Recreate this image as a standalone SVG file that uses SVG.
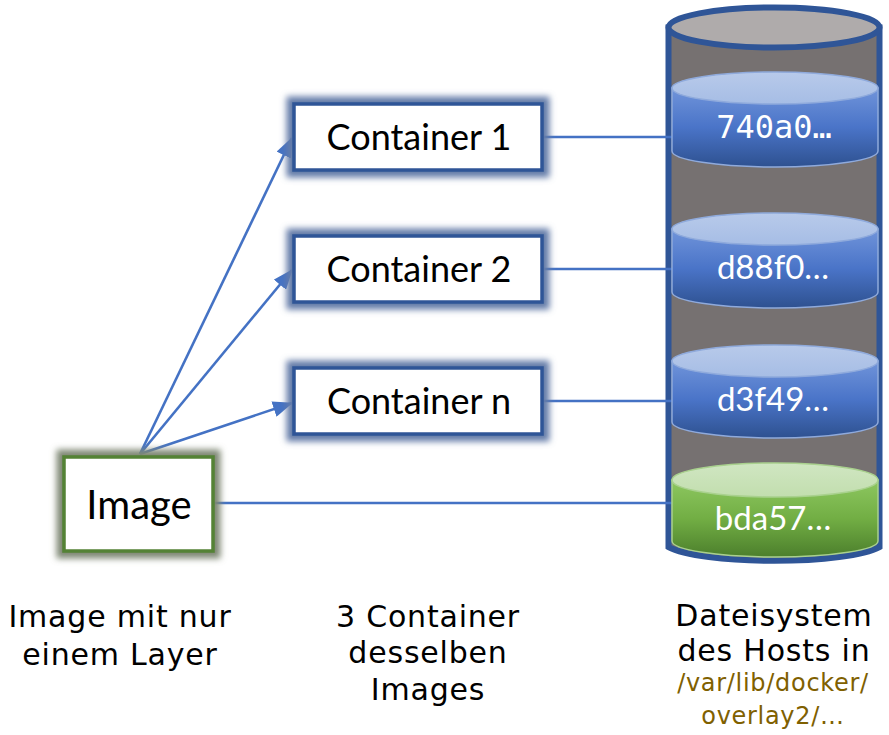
<svg xmlns="http://www.w3.org/2000/svg" width="889" height="735" viewBox="0 0 889 735">
<style>
.lbl{font-family:"DejaVu Sans","Verdana",sans-serif;font-size:30px;letter-spacing:0.8px;fill:#000;text-anchor:middle}
.path{font-family:"DejaVu Sans","Verdana",sans-serif;font-size:24px;letter-spacing:0.7px;fill:#7F6000;text-anchor:middle}
.box{font-family:Lato,"Open Sans",sans-serif;font-size:36px;fill:#000;text-anchor:middle}
.disk{font-family:Lato,"Open Sans",sans-serif;font-size:33px;fill:#fff;text-anchor:middle}
.mono{font-family:"DejaVu Sans Mono","Liberation Mono",monospace;font-size:32px;fill:#fff;text-anchor:middle}
.conn{stroke:#4472C4;stroke-width:2.6;fill:none}
.cbox{fill:#fff;stroke:#2F5597;stroke-width:3.5}
.cglow{fill:none;stroke:#647BA8;stroke-width:15;filter:url(#blur)}
.ibox{fill:#fff;stroke:#548235;stroke-width:3.5}
.iglow{fill:none;stroke:#7F8875;stroke-width:15;filter:url(#blur)}
.btop{fill:url(#btopg);stroke:#8FAADC;stroke-width:1.5}
.bbody{fill:url(#bbodyg);stroke:#8FAADC;stroke-width:1.5}
.gtop{fill:url(#gtopg);stroke:#A9D18E;stroke-width:1.5}
.gbody{fill:url(#gbodyg);stroke:#A9D18E;stroke-width:1.5}
</style>
<defs>
<filter id="blur" x="-20%" y="-40%" width="140%" height="180%"><feGaussianBlur stdDeviation="3.2"/></filter>
<marker id="arr" viewBox="0 0 20 16" refX="19" refY="8" markerWidth="20" markerHeight="16" markerUnits="userSpaceOnUse" orient="auto"><path d="M0,0 L20,8 L0,16 Z" fill="#4472C4"/></marker>
<linearGradient id="btopg" x1="0" y1="0" x2="0" y2="1"><stop offset="0" stop-color="#B8CAEA"/><stop offset="1" stop-color="#A6BDE5"/></linearGradient>
<linearGradient id="bbodyg" x1="0" y1="0" x2="0" y2="1"><stop offset="0" stop-color="#7094DA"/><stop offset="0.5" stop-color="#4A74C8"/><stop offset="1" stop-color="#2E5190"/></linearGradient>
<linearGradient id="gtopg" x1="0" y1="0" x2="0" y2="1"><stop offset="0" stop-color="#D0E6C2"/><stop offset="1" stop-color="#C2DEAE"/></linearGradient>
<linearGradient id="gbodyg" x1="0" y1="0" x2="0" y2="1"><stop offset="0" stop-color="#8DC760"/><stop offset="0.5" stop-color="#72AE44"/><stop offset="1" stop-color="#4C7F2C"/></linearGradient>
</defs>

<g id="filesystem">
<path d="M668.5,27.5 L668.5,547 A111,20 0 0 0 879.5,547 L879.5,27.5 Z" fill="#767171" stroke="#2F5597" stroke-width="6"/>
<ellipse cx="774" cy="27.5" rx="105.5" ry="20" fill="#AFABAB" stroke="#2F5597" stroke-width="6"/>
</g>

<g id="connectors">
<line class="conn" x1="140" y1="454" x2="292" y2="138" marker-end="url(#arr)"/>
<line class="conn" x1="140" y1="454" x2="292" y2="270" marker-end="url(#arr)"/>
<line class="conn" x1="140" y1="454" x2="292" y2="403" marker-end="url(#arr)"/>
<line class="conn" x1="543" y1="137" x2="672" y2="137"/>
<line class="conn" x1="543" y1="269" x2="672" y2="269"/>
<line class="conn" x1="543" y1="401" x2="672" y2="401"/>
<line class="conn" x1="214" y1="503" x2="672" y2="503"/>
</g>

<g id="layer-740a0">
<path class="bbody" d="M672,88 L672,151 A103,16 0 0 0 878,151 L878,88 Z"/>
<ellipse class="btop" cx="775" cy="88" rx="103" ry="16"/>
<text class="mono" x="774" y="138">740a0…</text>
</g>
<g id="layer-d88f0">
<path class="bbody" d="M672,229 L672,292 A103,16 0 0 0 878,292 L878,229 Z"/>
<ellipse class="btop" cx="775" cy="229" rx="103" ry="16"/>
<text class="disk" x="773" y="279">d88f0…</text>
</g>
<g id="layer-d3f49">
<path class="bbody" d="M672,361 L672,422 A103,16 0 0 0 878,422 L878,361 Z"/>
<ellipse class="btop" cx="775" cy="361" rx="103" ry="16"/>
<text class="disk" x="773" y="411">d3f49…</text>
</g>
<g id="layer-bda57">
<path class="gbody" d="M672,480 L672,541 A103,16 0 0 0 878,541 L878,480 Z"/>
<ellipse class="gtop" cx="775" cy="480" rx="103" ry="17"/>
<text class="disk" x="773" y="530">bda57…</text>
</g>

<g id="container1">
<rect class="cbox" x="294" y="104" width="248" height="66" stroke="none"/>
<rect class="cglow" x="294" y="104" width="248" height="66"/>
<rect class="cbox" x="294" y="104" width="248" height="66" fill="none"/>
<text class="box" x="419" y="150">Container 1</text>
</g>
<g id="container2">
<rect class="cbox" x="294" y="236" width="248" height="66" stroke="none"/>
<rect class="cglow" x="294" y="236" width="248" height="66"/>
<rect class="cbox" x="294" y="236" width="248" height="66" fill="none"/>
<text class="box" x="419" y="282">Container 2</text>
</g>
<g id="containern">
<rect class="cbox" x="294" y="368" width="248" height="66" stroke="none"/>
<rect class="cglow" x="294" y="368" width="248" height="66"/>
<rect class="cbox" x="294" y="368" width="248" height="66" fill="none"/>
<text class="box" x="419" y="414">Container n</text>
</g>
<g id="image">
<rect class="ibox" x="64" y="457" width="149" height="94" stroke="none"/>
<rect class="iglow" x="64" y="457" width="149" height="94"/>
<rect class="ibox" x="64" y="457" width="149" height="94" fill="none"/>
<text class="box" x="139" y="519" style="font-size:40px">Image</text>
</g>

<g id="labels">
<text class="lbl" x="120" y="627">Image mit nur</text>
<text class="lbl" x="120" y="665">einem Layer</text>
<text class="lbl" x="428" y="627">3 Container</text>
<text class="lbl" x="428" y="663">desselben</text>
<text class="lbl" x="428" y="700">Images</text>
<text class="lbl" x="774" y="626">Dateisystem</text>
<text class="lbl" x="774" y="661">des Hosts in</text>
<text class="path" x="773" y="691">/var/lib/docker/</text>
<text class="path" x="773" y="724">overlay2/…</text>
</g>
</svg>
